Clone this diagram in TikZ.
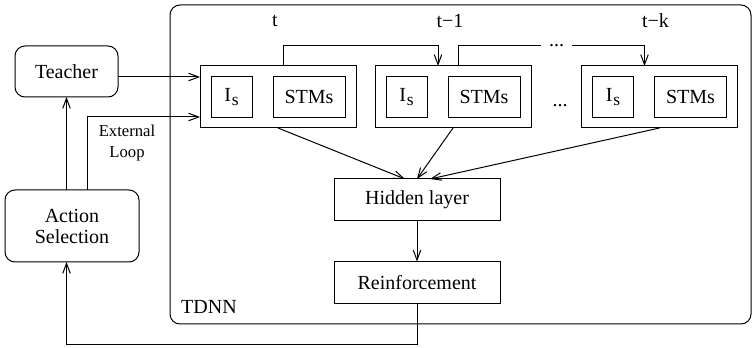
\documentclass[tikz,border=0pt]{standalone}
\usepackage{fontspec}
\setmainfont{Liberation Serif}
\usetikzlibrary{calc,arrows.meta}

\newcommand{\isub}{I\kern0.5pt\raisebox{-2pt}{\fontsize{10.5}{10.5}\selectfont s}}

\begin{document}
\begin{tikzpicture}[x=0.6pt,y=-0.6pt,line width=0.6pt,>={Straight Barb[length=6pt,width=4.5pt]}]
        \tikzstyle{every node}=[font=\fontsize{12}{12.6}\selectfont, inner sep=0pt, outer sep=0pt]
        \tikzstyle{rbox}=[draw, rounded corners=6pt, align=center]
        \tikzstyle{box}=[draw, minimum width=99.6pt, minimum height=25.2pt]
        \tikzstyle{group}=[draw, minimum width=93.6pt, minimum height=37.2pt]
        \tikzstyle{inbox}=[draw, minimum height=24.6pt]
        \useasboundingbox (0,0) rectangle (752,348);

        % TDNN frame
        \node[draw, rounded corners=6pt, minimum width=348.6pt, minimum height=191.4pt] (tdnn) at (460.5,164.5) {};
        \node (tdnnlbl) at (209,307) {TDNN};

        \node[rbox, minimum width=61.8pt, minimum height=30.6pt] (teacher) at (66.5,71.5) {Teacher};
        \node[rbox, minimum width=80.4pt, minimum height=43.2pt] (action) at (72,226) {Action\\Selection};

        % delayed inputs
        \node[group] (g1) at (278,97) {};
        \node[inbox, minimum width=24.6pt] (is1) at ($(g1)+(-46.5,0)$) {\isub};
        \node[inbox, minimum width=43.2pt] (stm1) at ($(g1)+(31,0)$) {STMs};
        \node (t1) at ($(g1.north)+(-3,-45)$) {t};

        \node[group] (g2) at (453,97) {};
        \node[inbox, minimum width=24.6pt] (is2) at ($(g2)+(-46.5,0)$) {\isub};
        \node[inbox, minimum width=43.2pt] (stm2) at ($(g2)+(31,0)$) {STMs};
        \node (t2) at ($(g2.north)+(-3,-45)$) {t−1};

        \node[group] (g3) at (659.5,97) {};
        \node[inbox, minimum width=24.6pt] (is3) at ($(g3)+(-46.5,0)$) {\isub};
        \node[inbox, minimum width=43.2pt] (stm3) at ($(g3)+(31,0)$) {STMs};
        \node (t3) at ($(g3.north)+(-4,-45)$) {t−k};

        \node[minimum width=18.6pt] (dots1) at (556.5,46) {...};
        \node (dots2) at (560,106) {...};

        \node[box] (hidden) at (417,200) {Hidden layer};
        \node[box] (reinf) at (417,282.5) {Reinforcement};

        \node[font=\fontsize{10}{12.6}\selectfont, align=center] (extloop) at (127,143) {External\\Loop};

        \coordinate (teachin) at ($(g1.west)+(0,-20)$);
        \coordinate (loopin) at ($(g1.west)+(0,20)$);

        \draw[->] (teacher.east |- teachin) -- (teachin);
        \draw[->] (action.north -| teacher.south) -- (teacher.south);
        \draw[->] ($(action.north)+(15,0)$) |- (loopin);

        \draw[->] ($(g1.north)+(5,0)$) -- ++(0,-20) -| ($(g2.north)+(-15,0)$);
        \draw ($(g2.north)+(5,0)$) |- (dots1.west);
        \draw[->] (dots1.east) -| ($(g3.north)+(-15,0)$);

        \draw[->] (g1.south) -- ($(hidden.north)+(-12,0)$);
        \draw[->] (g2.south) -- (hidden.north);
        \draw[->] (g3.south) -- ($(hidden.north)+(13,0)$);
        \draw[->] (hidden) -- (reinf);
        \draw[->] (reinf.south) -- ++(0,41) -| (action.south -| teacher.south);
\end{tikzpicture}
\end{document}
